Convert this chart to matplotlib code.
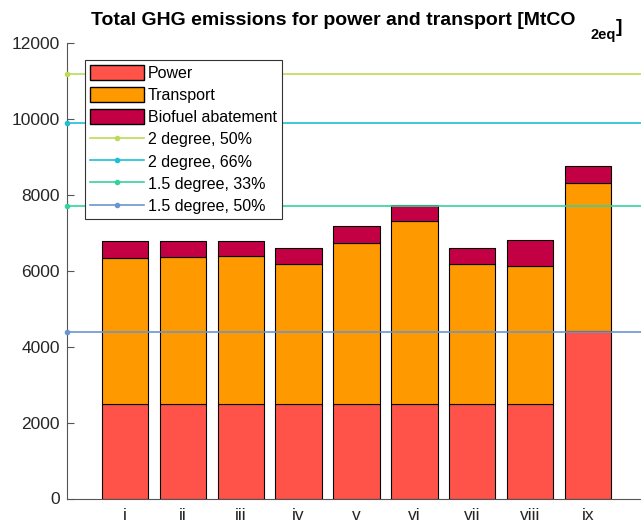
import numpy as np
import matplotlib.pyplot as plt
from matplotlib.lines import Line2D
from matplotlib.patches import Patch

plt.rcParams["font.family"] = ["Liberation Sans", "DejaVu Sans"]

scenarios = ["i", "ii", "iii", "iv", "v", "vi", "vii", "viii", "ix"]
power = [2500, 2500, 2500, 2500, 2500, 2500, 2500, 2500, 4420]
transport = [3850, 3875, 3900, 3675, 4230, 4815, 3675, 3640, 3910]
biofuel = [450, 425, 400, 425, 445, 435, 430, 665, 430]

budget_labels = ["2 degree, 50%", "2 degree, 66%", "1.5 degree, 33%", "1.5 degree, 50%"]
budget_values = [11200, 9900, 7700, 4400]
budget_colors = ["#bedb57", "#1fbdd6", "#37d1a0", "#6b95cf"]

c_power = "#ff534a"
c_transport = "#ff9900"
c_bio = "#c40044"

fig = plt.figure(figsize=(6.41, 5.29), dpi=100)
ax = fig.add_axes([67 / 641, 30.5 / 529, 579 / 641, 455.2 / 529])

x = np.arange(1, len(scenarios) + 1)
p = np.array(power)
t = np.array(transport)
b = np.array(biofuel)
ax.bar(x, p, 0.8, color=c_power, edgecolor="black", linewidth=0.8)
ax.bar(x, t, 0.8, bottom=p, color=c_transport, edgecolor="black", linewidth=0.8)
ax.bar(x, b, 0.8, bottom=p + t, color=c_bio, edgecolor="black", linewidth=0.8)

for val, col in zip(budget_values, budget_colors):
    ax.plot([0, 10], [val, val], color=col, lw=1.2, marker=".", ms=6, clip_on=False, zorder=3)

ax.set_xlim(0, 10)
ax.set_ylim(0, 12000)
ax.set_yticks(np.arange(0, 12001, 2000))
ax.set_xticks(x)
ax.set_xticklabels(scenarios)
ax.tick_params(axis="both", labelsize=12.5, colors="#262626")
ax.tick_params(axis="y", direction="in", length=5, color="#555555", pad=5)
ax.tick_params(axis="x", length=0, pad=7)
for s in ["top", "right"]:
    ax.spines[s].set_visible(False)
for s in ["left", "bottom"]:
    ax.spines[s].set_color("#555555")

# title with a dropped subscript, like the original export
main = fig.text(91 / 641, 1 - 25 / 529, "Total GHG emissions for power and transport [MtCO",
                fontsize=14, fontweight="bold", va="baseline", ha="left")
sub = ax.annotate("2eq", xy=(1, 0), xycoords=main, xytext=(15, -10),
                  textcoords="offset pixels", fontsize=10.5, fontweight="bold",
                  va="baseline", ha="left", annotation_clip=False)
ax.annotate("]", xy=(1, 0), xycoords=sub, xytext=(0, 10),
            textcoords="offset pixels", fontsize=14, fontweight="bold",
            va="baseline", ha="left", annotation_clip=False)

handles = [
    Patch(facecolor=c_power, edgecolor="black", label="Power"),
    Patch(facecolor=c_transport, edgecolor="black", label="Transport"),
    Patch(facecolor=c_bio, edgecolor="black", label="Biofuel abatement"),
]
for lab, col in zip(budget_labels, budget_colors):
    handles.append(Line2D([0], [0], color=col, lw=1.2, marker=".", ms=6, label=lab))
leg = ax.legend(handles=handles, loc="upper left",
                bbox_to_anchor=(18 / 579, 1 - 16.7 / 455.2),
                fontsize=11.5, frameon=True, fancybox=False, framealpha=1,
                edgecolor="#333333", borderpad=0.3, labelspacing=0.4,
                handlelength=3.4, handleheight=1.05, handletextpad=0.25,
                borderaxespad=0)
leg.get_frame().set_linewidth(0.8)

fig.savefig("out.png", dpi=100)
